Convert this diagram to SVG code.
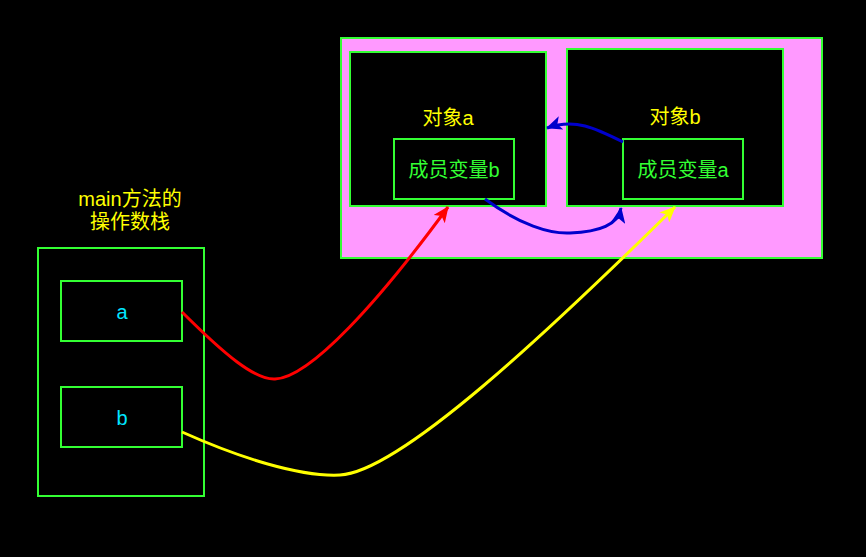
<svg xmlns="http://www.w3.org/2000/svg" width="866" height="557" viewBox="0 0 866 557">
<style>
.box{fill:#000;stroke:#33ff33;stroke-width:2}
.t{font-family:"Liberation Sans","Noto Sans CJK SC",sans-serif;font-size:20px;text-anchor:middle}
.y{fill:#ffff00}
.g{fill:#33ff33}
.c{fill:#00e5ff}
.ln{fill:none;stroke-width:3}
</style>
<defs>
<marker id="mr" markerUnits="userSpaceOnUse" markerWidth="16" markerHeight="14" viewBox="0 0 16 14" refX="15" refY="7" orient="auto"><path d="M0,0 L16,7 L0,14 L4,7 z" fill="#ff0000"/></marker>
<marker id="my" markerUnits="userSpaceOnUse" markerWidth="16" markerHeight="14" viewBox="0 0 16 14" refX="15" refY="7" orient="auto"><path d="M0,0 L16,7 L0,14 L4,7 z" fill="#ffff00"/></marker>
<marker id="mb" markerUnits="userSpaceOnUse" markerWidth="16" markerHeight="14" viewBox="0 0 16 14" refX="15" refY="7" orient="auto"><path d="M0,0 L16,7 L0,14 L4,7 z" fill="#0000cc"/></marker>
</defs>
<rect width="866" height="557" fill="#000"/>
<g id="heap">
<rect x="341" y="38" width="481" height="220" fill="#ff99ff" stroke="#33ff33" stroke-width="2"/>
</g>
<g id="objA">
<rect class="box" x="350" y="52" width="196" height="154"/>
<text class="t y" x="448" y="125">对象a</text>
</g>
<g id="fieldB">
<rect class="box" x="394" y="139" width="120" height="60"/>
<text class="t g" x="454" y="177">成员变量b</text>
</g>
<g id="objB">
<rect class="box" x="567" y="49" width="216" height="157"/>
<text class="t y" x="675" y="124">对象b</text>
</g>
<g id="fieldA">
<rect class="box" x="623" y="139" width="120" height="60"/>
<text class="t g" x="683" y="177">成员变量a</text>
</g>
<g id="stack">
<text class="t y" x="130" y="206">main方法的</text>
<text class="t y" x="130" y="229">操作数栈</text>
<rect class="box" x="38" y="248" width="166" height="248"/>
</g>
<g id="varA">
<rect class="box" x="61" y="281" width="121" height="60"/>
<text class="t c" x="122" y="319">a</text>
</g>
<g id="varB">
<rect class="box" x="61" y="387" width="121" height="60"/>
<text class="t c" x="122" y="425">b</text>
</g>
<g id="connectors">
<path class="ln" stroke="#ff0000" marker-end="url(#mr)" d="M182,312 C225,355 255,380 275,379 C310,378 380,300 448,207"/>
<path class="ln" stroke="#ffff00" marker-end="url(#my)" d="M182,432 C240,458 300,477 340,475 C400,472 550,330 675,207"/>
<path class="ln" stroke="#0000cc" marker-end="url(#mb)" d="M485,199 C520,225 550,234 570,233 C600,232 618,225 621,208"/>
<path class="ln" stroke="#0000cc" marker-end="url(#mb)" d="M623,142 C595,128 575,118 547,128"/>
</g>
</svg>
